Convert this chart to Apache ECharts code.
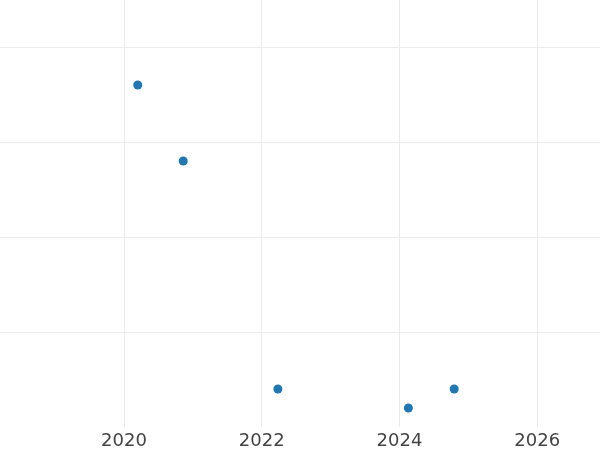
<!DOCTYPE html>
<html>
<head>
<meta charset="utf-8">
<script src="https://cdn.jsdelivr.net/npm/echarts@6/dist/echarts.min.js"></script>
<style>html,body{margin:0;padding:0;background:#fff}#c{width:600px;height:450px}</style>
</head>
<body>
<div id="c"></div>
<script>
const years = [2020.2, 2020.86, 2022.235, 2024.13, 2024.795];
const values = [3.6, 2.8, 0.4, 0.2, 0.4];
const xTickLabels = ['2020', '2022', '2024', '2026'];

const chart = echarts.init(document.getElementById('c'), null, {renderer: 'canvas'});
chart.setOption({
  animation: false,
  backgroundColor: '#ffffff',
  grid: {left: 0, right: 0, top: 0, bottom: 23, containLabel: false},
  xAxis: {
    type: 'value',
    min: 2018.2,
    max: 2026.912,
    splitNumber: 5,
    axisLine: {show: false},
    axisTick: {show: false},
    axisLabel: {
      show: true, margin: 5, fontSize: 18, color: '#444444', fontFamily: 'DejaVu Sans',
      showMinLabel: false, showMaxLabel: false,
      formatter: function (v) { const s = String(Math.round(v)); return (Math.abs(v - Math.round(v)) < 1e-6 && xTickLabels.indexOf(s) >= 0) ? s : ''; }
    },
    splitLine: {show: true, showMinLine: false, showMaxLine: false, lineStyle: {color: '#ebebeb', width: 1}}
  },
  yAxis: {
    type: 'value',
    min: 0,
    max: 4.4947,
    interval: 1,
    axisLine: {show: false},
    axisTick: {show: false},
    axisLabel: {show: false},
    splitLine: {show: true, showMinLine: false, showMaxLine: false, lineStyle: {color: '#ebebeb', width: 1}}
  },
  series: [
    {
      type: 'scatter',
      symbolSize: 9,
      itemStyle: {color: '#1f77b4', opacity: 1},
      data: years.map(function (y, i) { return [y, values[i]]; })
    }
  ]
});
</script>
</body>
</html>
